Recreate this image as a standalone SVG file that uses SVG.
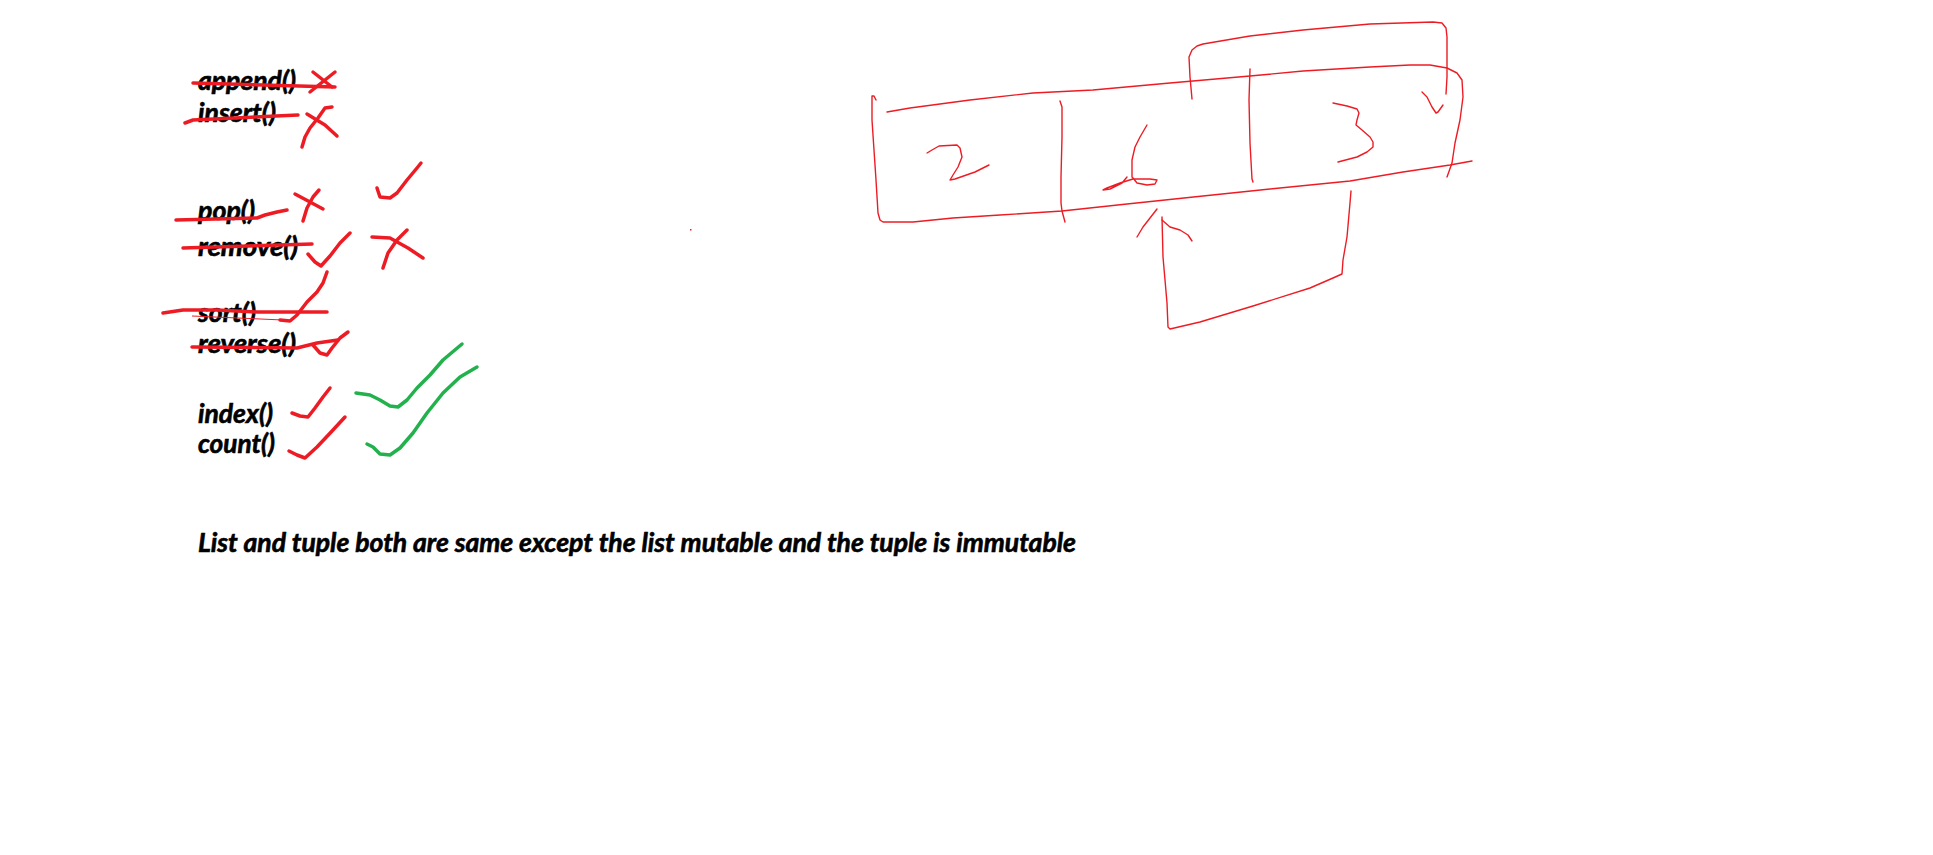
<svg xmlns="http://www.w3.org/2000/svg" width="1933" height="855" viewBox="0 0 1933 855">
<style>
.t{font-family:Lato,"Liberation Sans",sans-serif;font-weight:bold;font-style:italic;font-size:26px;fill:#000;stroke:#000;stroke-width:0.6}
.r{fill:none;stroke:#ED1C24;stroke-width:3.5;stroke-linecap:round;stroke-linejoin:round}
.g{fill:none;stroke:#22B14C;stroke-width:3.5;stroke-linecap:round;stroke-linejoin:round}
.th{fill:none;stroke:#ED1C24;stroke-width:1.4;stroke-linecap:round;stroke-linejoin:round}
</style>
<rect width="1933" height="855" fill="#fff"/>
<g id="methods">
<text class="t" x="198" y="90" textLength="98" lengthAdjust="spacingAndGlyphs">append()</text>
<text class="t" x="198" y="122" textLength="78" lengthAdjust="spacingAndGlyphs">insert()</text>
<text class="t" x="198" y="220" textLength="57" lengthAdjust="spacingAndGlyphs">pop()</text>
<text class="t" x="198" y="256" textLength="100" lengthAdjust="spacingAndGlyphs">remove()</text>
<text class="t" x="198" y="322" textLength="58" lengthAdjust="spacingAndGlyphs">sort()</text>
<text class="t" x="198" y="353" textLength="98" lengthAdjust="spacingAndGlyphs">reverse()</text>
<text class="t" x="198" y="423" textLength="75" lengthAdjust="spacingAndGlyphs">index()</text>
<text class="t" x="198" y="453" textLength="77" lengthAdjust="spacingAndGlyphs">count()</text>
</g>
<g id="sentence">
<text class="t" x="198" y="552" textLength="878" lengthAdjust="spacingAndGlyphs">List and tuple both are same except the list mutable and the tuple is immutable</text>
</g>
<g id="marks">
<path class="r" d="M193,83 L335,87"/>
<path class="r" d="M313,72 L332,87 M335,72 L310,92"/>
<path class="r" d="M185,123 L193,120 L298,115"/>
<path class="r" d="M307,114 L325,125 L337,136 M332,107 L325,108 L318,118 L310,128 L305,137 L302,147"/>
<path class="r" d="M377,188 L380,197 L390,198 L397,193 L407,180 L417,168 L421,163"/>
<path class="r" d="M176,220 L257,218 L265,215 L277,212 L287,210"/>
<path class="r" d="M295,194 L310,202 L323,209 M319,190 L313,197 L307,208 L303,221"/>
<path class="r" d="M183,248 L312,244"/>
<path class="r" d="M308,254 L315,262 L321,266 L330,256 L340,243 L350,233"/>
<path class="r" d="M372,237 L390,238 L408,248 L423,258 M407,230 L397,240 L388,253 L383,268"/>
<path class="r" d="M163,313 L183,310 L217,310 L257,312 L327,312"/>
<path d="M192,316 L283,320" fill="none" stroke="#ED1C24" stroke-width="1"/>
<path class="r" d="M280,320 L290,321 L297,315 L307,302 L317,292 L323,283 L327,272"/>
<path class="r" d="M192,347 L297,348 L317,343 L338,340"/>
<path class="r" d="M313,345 L320,353 L327,355 L332,348 L340,338 L348,332"/>
<path class="r" d="M292,413 L300,416 L308,417 L315,408 L323,397 L330,388"/>
<path class="r" d="M289,451 L297,455 L305,458 L317,447 L333,430 L345,417"/>
<path class="g" d="M356,393 L370,395 L380,400 L390,406 L398,407 L407,400 L417,388 L430,375 L443,360 L462,344"/>
<path class="g" d="M367,444 L373,447 L380,454 L390,455 L400,448 L413,433 L427,413 L443,393 L460,377 L477,367"/>
<rect x="690" y="229" width="1.5" height="1.5" fill="#ED1C24"/>
</g>
<g id="array-sketch">
<path class="th" d="M876,100 L874,96 L872,96 L872,120 L876,180 L878,213 L880,220 L883,222 L913,222 L953,218 L1000,215 L1062,211 L1127,204 L1203,196 L1270,189 L1350,181 L1403,172 L1450,165 L1472,161"/>
<path class="th" d="M887,112 L910,108 L970,100 L1033,93 L1093,90 L1170,83 L1250,76 L1303,71 L1370,67 L1410,65 L1430,65 L1447,68 L1457,73 L1462,80 L1463,97 L1460,120 L1455,143 L1452,163 L1447,177"/>
<path class="th" d="M1060,101 L1062,107 L1062,137 L1061,177 L1061,203 L1062,211 L1065,222"/>
<path class="th" d="M1250,69 L1249,100 L1250,143 L1252,179 L1253,182"/>
<path class="th" d="M927,153 L932,150 L939,146 L957,145 L960,148 L962,157 L958,167 L953,175 L950,180 L955,179 L975,172 L989,165"/>
<path class="th" d="M1147,125 L1140,137 L1135,147 L1132,160 L1132,177 L1133,178 L1137,183 L1147,185 L1155,184 L1157,180 L1150,179 L1133,179 L1120,183 L1107,188 L1103,190 L1110,189 L1122,183 L1127,177"/>
<path class="th" d="M1333,103 L1347,106 L1357,109 L1359,113 L1357,120 L1356,125 L1362,130 L1370,137 L1373,142 L1373,147 L1367,152 L1357,157 L1338,162"/>
</g>
<g id="connectors">
<path class="th" d="M1192,99 L1190,77 L1189,57 L1192,50 L1197,46 L1203,44 L1250,36 L1303,30 L1370,24 L1433,22 L1442,23 L1446,28 L1447,37 L1447,77 L1446,94"/>
<path class="th" d="M1422,92 L1427,97 L1432,107 L1436,113 L1438,112 L1443,105"/>
<path class="th" d="M1351,191 L1350,203 L1347,237 L1343,260 L1342,274 L1333,278 L1310,288 L1253,306 L1200,322 L1170,329 L1168,327 L1167,303 L1165,280 L1163,257 L1162,217"/>
<path class="th" d="M1137,237 L1143,227 L1150,218 L1157,209"/>
<path class="th" d="M1162,220 L1170,227 L1180,230 L1188,235 L1192,241"/>
</g>
</svg>
